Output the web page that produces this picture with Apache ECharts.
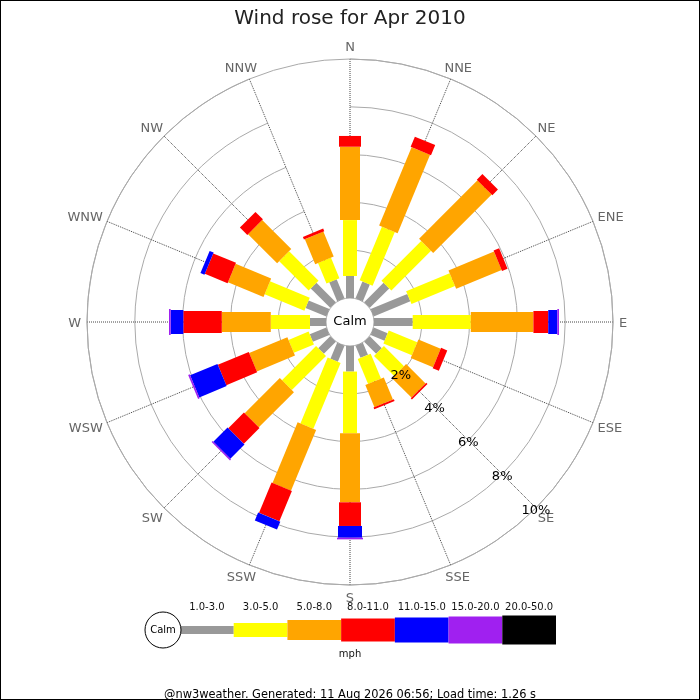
<!DOCTYPE html>
<html>
<head>
<meta charset="utf-8">
<script src="https://cdn.jsdelivr.net/npm/echarts@6/dist/echarts.min.js"></script>
<style>
html,body{margin:0;padding:0;background:#fff;}
#wrap{position:relative;width:700px;height:700px;}
#c{width:700px;height:700px;}
#frame{position:absolute;left:0;top:0;width:700px;height:700px;box-sizing:border-box;border:1px solid #000;pointer-events:none;}
</style>
</head>
<body>
<div id="wrap"><div id="c"></div><div id="frame"></div></div>
<script>
// ---- data ----
const directions = ['N','NNE','NE','ENE','E','ESE','SE','SSE','S','SSW','SW','WSW','W','WNW','NW','NNW'];
const speedBands = ['1.0-3.0','3.0-5.0','5.0-8.0','8.0-11.0','11.0-15.0','15.0-20.0','20.0-50.0'];
// frequency (%) per direction for each speed band (mph)
const mph1to3   = [0.92,0.76,1.15,1.66,1.62,0.63,0.71,0.55,1.07,0.73,0.71,0.75,0.67,0.94,1.15,0.86];
const mph3to5   = [2.34,2.43,2.35,1.97,2.43,1.29,1.19,1.13,2.58,2.98,2.02,0.91,1.64,1.80,1.74,0.93];
const mph5to8   = [3.07,3.55,3.46,2.06,2.62,1.01,1.15,1.00,2.89,2.75,2.08,1.73,2.05,1.61,1.72,1.13];
const mph8to11  = [0.45,0.46,0.33,0.25,0.62,0.28,0.07,0.08,0.99,1.37,0.93,1.40,1.61,1.03,0.44,0.12];
const mph11to15 = [0,0,0,0,0.38,0,0,0,0.49,0.36,0.84,1.24,0.53,0.18,0,0];
const mph15to20 = [0,0,0,0,0.07,0,0,0,0.07,0,0.06,0.07,0.07,0,0,0];
const mph20to50 = [0,0,0,0,0,0,0,0,0,0,0,0,0,0,0,0];
const titleText = 'Wind rose for Apr 2010';
const footerText = '@nw3weather. Generated: 11 Aug 2026 06:56; Load time: 1.26 s';

// ---- style ----
const FONT = 'DejaVu Sans';
const bandColors = ['#999999','#ffff00','#ffa500','#ff0000','#0000ff','#a020f0','#000000'];
const barWidths = [8,14,20,22,24,26,28];
const legendHeights = [8,14,20,23,25,27,29];
const DIR_FONT_SIZE = 13;

const bandValues = [mph1to3, mph3to5, mph5to8, mph8to11, mph11to15, mph15to20, mph20to50];

const measureCtx = document.createElement('canvas').getContext('2d');
function textWidth(str, size) {
  measureCtx.font = size + 'px "' + FONT + '"';
  return measureCtx.measureText(str).width;
}

function makeRoseRender(b) {
  return function (params, api) {
    const d = api.value(0), s = api.value(1), e = api.value(2);
    if (!(e - s > 0)) return null;
    const a = api.coord([s, d]);
    const c = api.coord([e, d]);
    const p0 = api.coord([0, d]);
    const p1 = api.coord([10, d]);
    let ux = p1[0] - p0[0], uy = p1[1] - p0[1];
    const L = Math.hypot(ux, uy); ux /= L; uy /= L;
    const hw = barWidths[b] / 2;
    const nx = -uy * hw, ny = ux * hw;
    return {
      type: 'polygon',
      shape: { points: [[a[0]+nx, a[1]+ny], [c[0]+nx, c[1]+ny], [c[0]-nx, c[1]-ny], [a[0]-nx, a[1]-ny]] },
      style: { fill: bandColors[b] }
    };
  };
}

const cum = directions.map(() => 0);
const roseSeries = bandValues.map((vals, b) => {
  const data = vals.map((v, d) => { const s = cum[d]; cum[d] = s + v; return [d, s, s + v]; });
  return {
    type: 'custom', name: speedBands[b], coordinateSystem: 'polar', polarIndex: 0,
    data: data, encode: { angle: 0, radius: 2 }, renderItem: makeRoseRender(b), z: 3, silent: true
  };
});

// direction names placed just outside the outer ring, pushed out by half their box
const directionLabelSeries = {
  type: 'custom', coordinateSystem: 'polar', polarIndex: 2, silent: true,
  data: directions.map((name, i) => [1, i]),
  encode: { radius: 0, angle: 1 },
  renderItem: function (params, api) {
    const i = api.value(1);
    const p = api.coord([1, i]);
    const o = api.coord([0, i]);
    let ux = p[0] - o[0], uy = p[1] - o[1];
    const L = Math.hypot(ux, uy); ux /= L; uy /= L;
    const w = textWidth(directions[i], DIR_FONT_SIZE);
    const h = DIR_FONT_SIZE;
    return {
      type: 'text', x: p[0] + ux * w / 2, y: p[1] + uy * h / 2 + 1.5,
      style: { text: directions[i], fill: '#666', fontSize: DIR_FONT_SIZE, fontFamily: FONT, align: 'center', verticalAlign: 'middle' }
    };
  },
  z: 5
};

const legendSeries = {
  type: 'custom', coordinateSystem: 'cartesian2d', xAxisIndex: 0, yAxisIndex: 0, silent: true,
  data: speedBands.map((_, i) => [i, 0.5]),
  renderItem: function (params, api) {
    const i = api.value(0);
    const c = api.coord([i, 0.5]);
    const w = api.size([1, 0])[0];
    const h = legendHeights[i];
    return { type: 'rect', shape: { x: c[0] - w / 2, y: c[1] - h / 2, width: w, height: h }, style: { fill: bandColors[i] } };
  }
};

const chart = echarts.init(document.getElementById('c'), null, { renderer: 'canvas' });
chart.setOption({
  animation: false,
  backgroundColor: '#fff',
  textStyle: { fontFamily: FONT },
  title: [
    { text: titleText, left: 'center', top: 4, textStyle: { fontFamily: FONT, fontSize: 20, fontWeight: 'normal', color: '#222' } },
    { text: 'mph', left: 'center', top: 644, textStyle: { fontFamily: FONT, fontSize: 10, fontWeight: 'normal', color: '#111' } },
    { text: footerText, left: 'center', top: 685, textStyle: { fontFamily: FONT, fontSize: 11.4, fontWeight: 'normal', color: '#000' } }
  ],
  polar: [
    { center: [350, 322], radius: [24, 263] },
    { center: [350, 322], radius: [24, 263] },
    { center: [350, 322], radius: [0, 269] }
  ],
  angleAxis: [
    {
      polarIndex: 0, type: 'category', data: directions, boundaryGap: false, startAngle: 90, clockwise: true,
      axisLine: { show: true, lineStyle: { color: '#aaa', width: 1 } },
      axisTick: { show: false },
      axisLabel: { show: false },
      splitLine: { show: true, lineStyle: { color: '#444', width: 1, type: 'dotted' } },
      z: 1
    },
    { polarIndex: 1, type: 'value', min: 0, max: 360, startAngle: -45, show: false },
    { polarIndex: 2, type: 'category', data: directions, boundaryGap: false, startAngle: 90, clockwise: true, show: false }
  ],
  radiusAxis: [
    {
      polarIndex: 0, type: 'value', min: 0, max: 10, interval: 2,
      axisLine: { show: false }, axisTick: { show: false }, axisLabel: { show: false },
      splitLine: { show: true, lineStyle: { color: ['rgba(0,0,0,0)', '#aaa', '#aaa', '#aaa', '#aaa', '#aaa'], width: 1 } },
      z: 1
    },
    {
      polarIndex: 1, type: 'value', min: 0, max: 10, interval: 2,
      axisLine: { show: false }, axisTick: { show: false }, splitLine: { show: false },
      axisLabel: { show: true, formatter: '{value}%', showMinLabel: false, margin: 0, color: '#000', fontSize: 13,
                   align: 'center', verticalAlign: 'top', lineHeight: 5, fontFamily: FONT },
      z: 10
    },
    { polarIndex: 2, type: 'value', min: 0, max: 1, show: false }
  ],
  grid: { left: 180, width: 376, top: 614, height: 32 },
  xAxis: {
    type: 'category', data: speedBands, position: 'top',
    axisLine: { show: false }, axisTick: { show: false }, splitLine: { show: false },
    axisLabel: { interval: 0, color: '#111', fontSize: 10, margin: 1.5, fontFamily: FONT }
  },
  yAxis: { type: 'value', min: 0, max: 1, show: false },
  graphic: [
    { type: 'text', x: 350, y: 322, z: 20, style: { text: 'Calm', fontSize: 13, fontFamily: FONT, fill: '#000', textAlign: 'center', textVerticalAlign: 'middle' } },
    { type: 'circle', shape: { cx: 163, cy: 630, r: 18 }, z: 20, style: { fill: '#fff', stroke: '#000', lineWidth: 1 } },
    { type: 'text', x: 163, y: 630, z: 21, style: { text: 'Calm', fontSize: 10, fontFamily: FONT, fill: '#000', textAlign: 'center', textVerticalAlign: 'middle' } }
  ],
  series: roseSeries.concat([directionLabelSeries, legendSeries])
});
</script>
</body>
</html>
